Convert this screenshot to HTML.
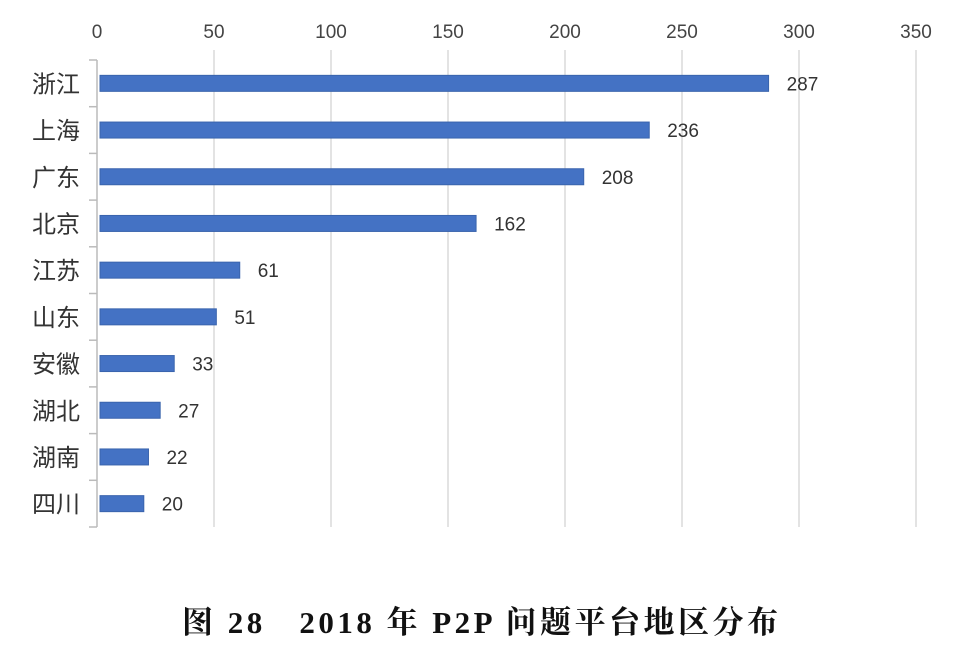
<!DOCTYPE html>
<html><head><meta charset="utf-8"><style>
body{margin:0;background:#fff;}
svg{display:block;}
</style></head><body>
<svg width="980" height="656" font-family="'Liberation Sans','Noto Sans CJK SC',sans-serif">
<g id="grid"></g><g id="bars"></g>
<text x="182" y="633" textLength="596" lengthAdjust="spacing" font-family="'Liberation Serif','Noto Serif CJK SC',serif" font-size="31" font-weight="bold" fill="#111" xml:space="preserve">图 28   2018 年 P2P 问题平台地区分布</text>
</svg>
<script>
const categories=["浙江","上海","广东","北京","江苏","山东","安徽","湖北","湖南","四川"];
const values=[287,236,208,162,61,51,33,27,22,20];
const ticks=[0,50,100,150,200,250,300,350];
const ns="http://www.w3.org/2000/svg";
const x0=97,scale=(916-97)/350,yTop=60,yBottom=527;
const band=(yBottom-yTop)/categories.length;
const xs=v=>x0+v*scale;
function mk(t,a,p){const e=document.createElementNS(ns,t);for(const k in a)e.setAttribute(k,a[k]);p.appendChild(e);return e;}
const g=document.getElementById('grid'),b=document.getElementById('bars');
ticks.forEach(t=>{
 if(t>0){const l=mk('line',{x1:xs(t),x2:xs(t),y1:50,y2:yBottom,stroke:'#d0d0d0','stroke-width':1.2},g);
 
 }
 const tx=mk('text',{x:xs(t),y:38,'text-anchor':'middle','font-size':19,fill:'#444'},g);tx.textContent=t;
 
 
});
const ax=mk('line',{x1:x0,x2:x0,y1:yTop,y2:yBottom,stroke:'#bbb','stroke-width':1.5},g);


for(let i=0;i<=categories.length;i++){const tk=mk('line',{x1:89,x2:x0,y1:yTop+i*band,y2:yTop+i*band,stroke:'#bbb','stroke-width':1.5},g);
 
 }
categories.forEach((c,i)=>{
 const cy=yTop+band*(i+0.5);
 const r=mk('rect',{x:x0+3,y:cy-8,width:xs(values[i])-x0-3,height:16,fill:'#4472c4',stroke:'#3a64ad','stroke-width':1},b);
 
 
 const l=mk('text',{x:xs(values[i])+18,y:cy+7,'font-size':19,fill:'#333'},b);l.textContent=values[i];
 
 
 const cl=mk('text',{x:80,y:cy+9,'text-anchor':'end','font-size':24,fill:'#333'},b);cl.textContent=c;
 
 
});
</script>
</body></html>
